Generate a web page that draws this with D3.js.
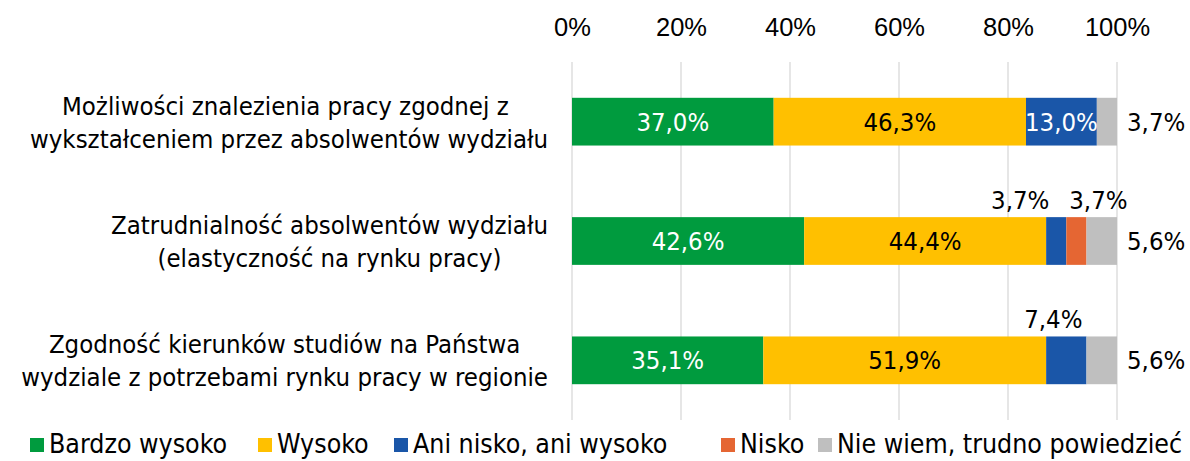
<!DOCTYPE html>
<html>
<head>
<meta charset="utf-8">
<script src="https://cdn.jsdelivr.net/npm/d3@7"></script>
<style>
  body { margin: 0; background: #fff; }
  svg { display: block; font-family: "DejaVu Sans Condensed", "DejaVu Sans", sans-serif; font-stretch: condensed; }
</style>
</head>
<body>
<svg id="chart" width="1190" height="461"></svg>
<script>
// Categories (two lines each)
const categories = [
  ["Możliwości znalezienia pracy zgodnej z\u00A0", "wykształceniem przez absolwentów wydziału"],
  ["Zatrudnialność absolwentów wydziału", "(elastyczność na rynku pracy)"],
  ["Zgodność kierunków studiów na Państwa", "wydziale z potrzebami rynku pracy w regionie"]
];
const seriesNames = ["Bardzo wysoko", "Wysoko", "Ani nisko, ani wysoko", "Nisko", "Nie wiem, trudno powiedzieć"];
const bardzoWysoko = [37.0, 42.6, 35.1];
const wysoko = [46.3, 44.4, 51.9];
const aniNiskoAniWysoko = [13.0, 3.7, 7.4];
const nisko = [0, 3.7, 0];
const nieWiem = [3.7, 5.6, 5.6];
const tickValues = [0, 20, 40, 60, 80, 100];

// Label placement per series/category: "in" = centred in bar, "above", "right", null = none
const labelMode = [
  ["in", "in", "in"],
  ["in", "in", "in"],
  ["in", "above", "above"],
  [null, "above", null],
  ["right", "right", "right"]
];
const aboveShift = [[0, 0, 0], [0, 0, 0], [0, -36, -13], [0, 22, 0], [0, 0, 0]];

const colors = ["#009B3E", "#FFC000", "#1A56A8", "#E56633", "#BFBFBF"];
const textColors = ["#fff", "#000", "#fff", "#000", "#000"];

const values = [bardzoWysoko, wysoko, aniNiskoAniWysoko, nisko, nieWiem];

const margin = { left: 572, right: 73, top: 62, bottom: 41 };
const W = 1190, H = 461;
const fontSize = 25.5;

const svg = d3.select("#chart");

const x = d3.scaleLinear().domain([0, 100]).range([margin.left, W - margin.right]);
const y = d3.scaleBand().domain(d3.range(categories.length))
  .range([margin.top, 420]).paddingInner(0.6).paddingOuter(0.3);

// gridlines
svg.append("g").selectAll("line").data(tickValues).join("line")
  .attr("x1", d => x(d)).attr("x2", d => x(d))
  .attr("y1", margin.top).attr("y2", 420)
  .attr("stroke", "#D9D9D9").attr("stroke-width", 1.3);

// top axis labels
const axis = svg.append("g").attr("transform", "translate(0,36)")
  .call(d3.axisTop(x).tickValues(tickValues).tickFormat(d => d + "%").tickSize(0).tickPadding(0));
axis.select(".domain").remove();
axis.selectAll("text").attr("font-size", fontSize).attr("font-family", null).attr("fill", "#000");

// stack
const rows = categories.map((c, i) => {
  let acc = 0;
  return values.map((s, k) => {
    const v = s[i];
    const seg = { k, i, v, x0: acc, x1: acc + v };
    acc += v;
    return seg;
  });
});
const segs = rows.flat();

svg.append("g").selectAll("rect").data(segs.filter(d => d.v > 0)).join("rect")
  .attr("x", d => x(d.x0))
  .attr("width", d => x(d.x1) - x(d.x0))
  .attr("y", d => y(d.i))
  .attr("height", y.bandwidth())
  .attr("fill", d => colors[d.k]);

const fmt = v => v.toFixed(1).replace(".", ",") + "%";

// data labels
svg.append("g").selectAll("text").data(segs.filter(d => labelMode[d.k][d.i])).join("text")
  .attr("font-size", fontSize)
  .attr("text-anchor", d => labelMode[d.k][d.i] === "right" ? "start" : "middle")
  .attr("fill", d => labelMode[d.k][d.i] === "in" ? textColors[d.k] : "#000")
  .attr("x", d => {
    const m = labelMode[d.k][d.i];
    if (m === "right") return x(d.x1) + 10;
    return (x(d.x0) + x(d.x1)) / 2 + aboveShift[d.k][d.i];
  })
  .attr("y", d => {
    const m = labelMode[d.k][d.i];
    if (m === "above") return y(d.i) - 8;
    return y(d.i) + y.bandwidth() / 2 + 9;
  })
  .text(d => fmt(d.v));

// category labels: block right-aligned to plot, lines centred within block
const labelRight = 548;
const catG = svg.append("g").selectAll("text").data(categories).join("text")
  .attr("font-size", fontSize)
  .attr("text-anchor", "middle")
  .attr("y", (d, i) => y(i) + y.bandwidth() / 2 - 16 + 9);
catG.selectAll("tspan").data(d => d).join("tspan")
  .attr("dy", (d, j) => j === 0 ? 0 : 33)
  .text(d => d);
catG.each(function () {
  const t = d3.select(this);
  const w = d3.max(t.selectAll("tspan").nodes(), n => n.getComputedTextLength());
  t.selectAll("tspan").attr("x", labelRight - w / 2);
});

// legend
const legendX = [30, 258, 394, 721, 818];
const lg = svg.append("g").selectAll("g").data(seriesNames).join("g")
  .attr("transform", (d, k) => `translate(${legendX[k]},453)`);
lg.append("rect").attr("x", 0).attr("y", -15).attr("width", 14).attr("height", 14)
  .attr("fill", (d, k) => colors[k]);
lg.append("text").attr("x", 19).attr("y", 0).attr("font-size", 26.5).text(d => d);
</script>
</body>
</html>
